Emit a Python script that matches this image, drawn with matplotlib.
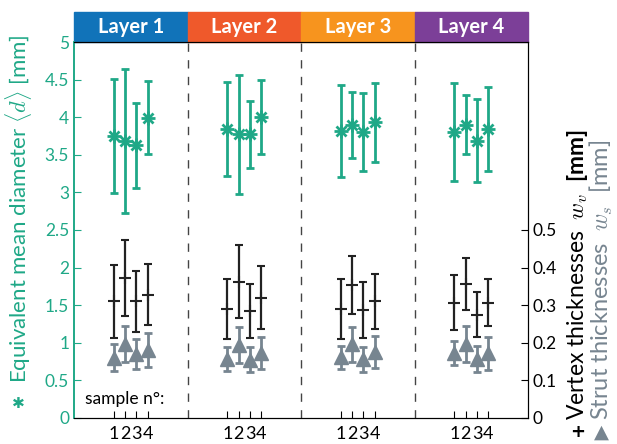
import numpy as np
import matplotlib
matplotlib.use("Agg")
import matplotlib.pyplot as plt
from matplotlib.patches import Rectangle

plt.rcParams['font.family'] = ['Lato', 'DejaVu Sans']
plt.rcParams['mathtext.fontset'] = 'custom'
plt.rcParams['mathtext.it'] = 'cmmi10'
plt.rcParams['mathtext.rm'] = 'Lato'
plt.rcParams['mathtext.bf'] = 'Lato:bold'

# data
layers = ['Layer 1', 'Layer 2', 'Layer 3', 'Layer 4']
layer_colors = ['#1173b9', '#ef592b', '#f7941e', '#7c3f98']
samples = ['1', '2', '3', '4']

d_mean = [[3.75, 3.68, 3.63, 3.99],
          [3.84, 3.77, 3.77, 4.00],
          [3.82, 3.90, 3.80, 3.93],
          [3.80, 3.90, 3.69, 3.84]]
d_err = [[0.76, 0.96, 0.565, 0.485],
         [0.625, 0.785, 0.45, 0.49],
         [0.61, 0.44, 0.52, 0.52],
         [0.65, 0.39, 0.55, 0.555]]

wv_mean = [[0.310, 0.373, 0.310, 0.328],
           [0.290, 0.363, 0.285, 0.320],
           [0.290, 0.354, 0.288, 0.310],
           [0.307, 0.357, 0.275, 0.307]]
wv_err = [[0.096, 0.101, 0.080, 0.082],
          [0.080, 0.098, 0.072, 0.084],
          [0.080, 0.078, 0.075, 0.073],
          [0.074, 0.069, 0.060, 0.063]]

ws_mean = [[0.160, 0.197, 0.170, 0.180],
           [0.157, 0.195, 0.155, 0.173],
           [0.161, 0.196, 0.156, 0.175],
           [0.172, 0.196, 0.156, 0.172]]
ws_err = [[0.036, 0.048, 0.039, 0.045],
          [0.032, 0.048, 0.034, 0.043],
          [0.030, 0.046, 0.033, 0.042],
          [0.032, 0.048, 0.035, 0.044]]

green = '#1fa887'
gray = '#778590'
offsets = np.array([-0.15, -0.05, 0.05, 0.15])

fig = plt.figure(figsize=(6.17, 4.44), dpi=100)
ax = fig.add_axes([0.12, 0.0586, 0.7358, 0.8468])
ax2 = ax.twinx()

xs_all = []
for i in range(4):
    xs = i + 1 + offsets
    xs_all.extend(xs)
    ax.errorbar(xs, d_mean[i], yerr=d_err[i], fmt='none', ecolor=green,
                elinewidth=2, capsize=3, capthick=2)
    # matlab-like '*' marker: plus and cross on top of each other
    ax.plot(xs, d_mean[i], ls='none', marker='+', ms=10, mew=2, color=green)
    ax.plot(xs, d_mean[i], ls='none', marker='x', ms=7.5, mew=2, color=green)
    ax2.errorbar(xs, wv_mean[i], yerr=wv_err[i], fmt='+', color='#222222',
                 ms=9, mew=1.5, elinewidth=1.6, capsize=3, capthick=1.6)
    ax2.errorbar(xs, ws_mean[i], yerr=ws_err[i], fmt='^', color=gray,
                 ms=9.5, elinewidth=2, capsize=3, capthick=2)

for xd in [1.5, 2.5, 3.5]:
    ax.axvline(xd, color='#444444', ls=(0, (6, 6)), lw=1)

ax.set_xlim(0.5, 4.5)
ax.set_ylim(0, 5)
ax2.set_ylim(0, 1)

ax.set_xticks(xs_all)
ax.set_xticklabels(samples * 4, fontsize=13)
ax.tick_params(axis='x', direction='in', length=5, pad=6)
ax.set_yticks(np.arange(0, 5.01, 0.5))
ax.set_yticklabels(['0', '0.5', '1', '1.5', '2', '2.5', '3', '3.5', '4', '4.5', '5'])
ax.tick_params(axis='y', direction='in', colors=green, labelsize=12.5, length=5)
ax.spines['left'].set_color(green)
ax.spines['left'].set_linewidth(1.2)
ax2.set_yticks(np.arange(0, 0.51, 0.1))
ax2.set_yticklabels(['0', '0.1', '0.2', '0.3', '0.4', '0.5'])
ax2.tick_params(axis='y', direction='in', labelsize=12.5, length=5)
ax2.spines['left'].set_color(green)
ax2.spines['left'].set_linewidth(1.2)

# layer header bars
hh = 30 / 376
for i, (name, c) in enumerate(zip(layers, layer_colors)):
    ax.add_patch(Rectangle((i / 4, 1), 0.25, hh, transform=ax.transAxes,
                           color=c, clip_on=False))
    ax.text((i + 0.5) / 4, 1 + hh / 2, name, transform=ax.transAxes,
            ha='center', va='center', color='white', fontsize=14.5,
            fontweight='bold')

ax.text(0.025, 0.03, 'sample n°:', transform=ax.transAxes, fontsize=12.5,
        ha='left', va='bottom')

# axis labels (symbols drawn separately with DejaVu Sans)
fig.text(0.03, 0.137, 'Equivalent mean diameter $\\langle d\\rangle$ [mm]',
         rotation=90, ha='center', va='bottom', color=green, fontsize=16)
fig.text(0.03, 0.092, '\u2731', family='DejaVu Sans', ha='center', va='center',
         color=green, fontsize=11)
fig.text(0.936, 0.054, 'Vertex thicknesses  $w_v$  $\\mathbf{[mm]}$',
         rotation=90, ha='center', va='bottom', color='black', fontsize=16.5)
fig.text(0.936, 0.027, '+', family='DejaVu Sans', ha='center', va='center',
         color='black', fontsize=13, fontweight='bold')
fig.text(0.975, 0.054, 'Strut thicknesses  $w_s$  [mm]',
         rotation=90, ha='center', va='bottom', color=gray, fontsize=17)
fig.text(0.975, 0.027, '\u25b2', family='DejaVu Sans', ha='center', va='center',
         color=gray, fontsize=14)

fig.savefig('out.png', dpi=100)
